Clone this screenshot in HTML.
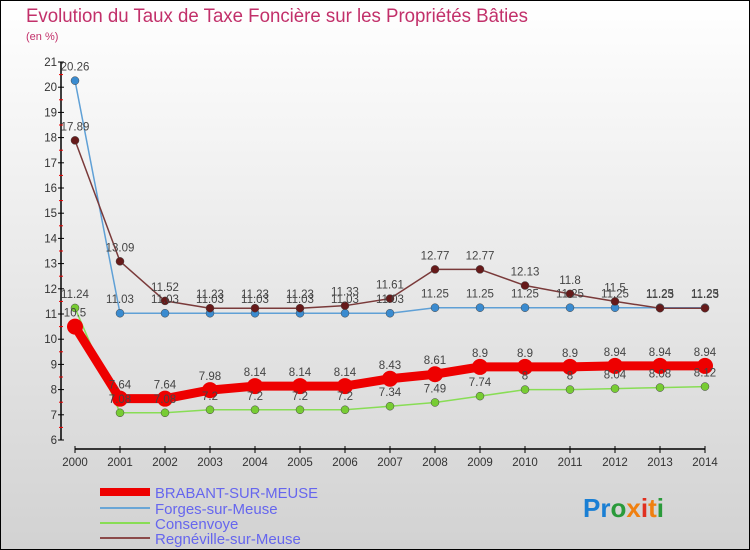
<!DOCTYPE html>
<html><head><meta charset="utf-8"><style>
body{margin:0}
#c{width:750px;height:550px;position:relative;overflow:hidden}
</style></head><body>
<div id="c">
<svg id="s" width="750" height="550" xmlns="http://www.w3.org/2000/svg" font-family="Liberation Sans, sans-serif">
<defs><linearGradient id="bg" x1="0" y1="0" x2="0" y2="1"><stop offset="0" stop-color="#ffffff"/><stop offset="1" stop-color="#d2d2d2"/></linearGradient></defs>
<rect x="0.5" y="0.5" width="749" height="549" fill="url(#bg)" stroke="#000"/>
<text x="26" y="22" font-size="19" fill="#c2306a" textLength="502" lengthAdjust="spacingAndGlyphs">Evolution du Taux de Taxe Foncière sur les Propriétés Bâties</text>
<text x="26" y="40" font-size="11" fill="#c2306a">(en %)</text>
<g id="axes"></g><g id="series"></g><g id="labels"></g>
<g>
<line x1="100" y1="492" x2="150" y2="492" stroke="#ee0000" stroke-width="8"/>
<text x="155" y="498" font-size="15" fill="#6666ee" textLength="163" lengthAdjust="spacingAndGlyphs">BRABANT-SUR-MEUSE</text>
<line x1="100" y1="508" x2="150" y2="508" stroke="#6aa6d6" stroke-width="2"/>
<text x="155" y="514" font-size="15" fill="#6666ee">Forges-sur-Meuse</text>
<line x1="100" y1="523" x2="150" y2="523" stroke="#88dd55" stroke-width="2"/>
<text x="155" y="529" font-size="15" fill="#6666ee">Consenvoye</text>
<line x1="100" y1="538" x2="150" y2="538" stroke="#8b4a4a" stroke-width="2"/>
<text x="155" y="544" font-size="15" fill="#6666ee">Regnéville-sur-Meuse</text>
</g>
<text x="583" y="517" font-size="26" font-weight="bold"><tspan fill="#1a7fd4">Pr</tspan><tspan fill="#2a9a3a">o</tspan><tspan fill="#f08010">x</tspan><tspan fill="#e03020">i</tspan><tspan fill="#f08010">t</tspan><tspan fill="#2a9a3a">i</tspan></text>
</svg>
</div>
<script>
const years=[2000,2001,2002,2003,2004,2005,2006,2007,2008,2009,2010,2011,2012,2013,2014];
const brabant=[10.5,7.64,7.64,7.98,8.14,8.14,8.14,8.43,8.61,8.9,8.9,8.9,8.94,8.94,8.94];
const forges=[20.26,11.03,11.03,11.03,11.03,11.03,11.03,11.03,11.25,11.25,11.25,11.25,11.25,11.25,11.25];
const consenvoye=[11.24,7.08,7.08,7.2,7.2,7.2,7.2,7.34,7.49,7.74,8,8,8.04,8.08,8.12];
const regneville=[17.89,13.09,11.52,11.23,11.23,11.23,11.33,11.61,12.77,12.77,12.13,11.8,11.5,11.23,11.23];
const yTicks=[6,7,8,9,10,11,12,13,14,15,16,17,18,19,20,21];
const NS='http://www.w3.org/2000/svg';
const X=i=>75+i*45;
const Y=v=>440-(v-6)*25.2;
function mk(p,t,a){const e=document.createElementNS(NS,t);for(const k in a)e.setAttribute(k,a[k]);p.appendChild(e);return e;}
const ax=document.getElementById('axes');
let l=mk(ax,'line',{x1:61,y1:Y(21),x2:61,y2:Y(6),stroke:'#000','stroke-width':1.5});


l=mk(ax,'line',{x1:X(0),y1:449,x2:X(14),y2:449,stroke:'#000','stroke-width':1.5});


yTicks.forEach(v=>{
 mk(ax,'line',{x1:58,y1:Y(v),x2:64,y2:Y(v),stroke:'#000'});
 if(v<21) mk(ax,'line',{x1:59,y1:Y(v+0.5),x2:63,y2:Y(v+0.5),stroke:'#e00'});
 const t=mk(ax,'text',{x:57,y:Y(v)+4,'font-size':11.5,fill:'#333','text-anchor':'end'});t.textContent=v;
 
 
});
years.forEach((y,i)=>{
 mk(ax,'line',{x1:X(i),y1:446,x2:X(i),y2:453,stroke:'#000'});
 const t=mk(ax,'text',{x:X(i),y:466,'font-size':11.5,fill:'#333','text-anchor':'middle'});t.textContent=y;
 
 
});
const sg=document.getElementById('series'),lg=document.getElementById('labels');
function draw(d,name,col,w,r,dot){
 const p=mk(sg,'polyline',{points:d.map((v,i)=>X(i)+','+Y(v)).join(' '),fill:'none',stroke:col,'stroke-width':w,'stroke-linejoin':'round'});
 
 
 d.forEach((v,i)=>{
  const c=mk(sg,'circle',{cx:X(i),cy:Y(v),r:r,fill:dot,stroke:'#444','stroke-width':r>5?0:0.5});
  
  
  const t=mk(lg,'text',{x:X(i),y:Y(v)-10,'font-size':11.5,fill:'#444','text-anchor':'middle'});t.textContent=v;
  
  
 });
}
draw(forges,'forges','#5fa0d6',1.5,4,'#3a8bd0');
draw(consenvoye,'consenvoye','#88dd55',1.5,4,'#77cc33');
draw(regneville,'regneville','#7a3a3a',1.5,4,'#661a1a');
draw(brabant,'brabant','#ee0000',9,8,'#ee0000');
</script>
</body></html>
